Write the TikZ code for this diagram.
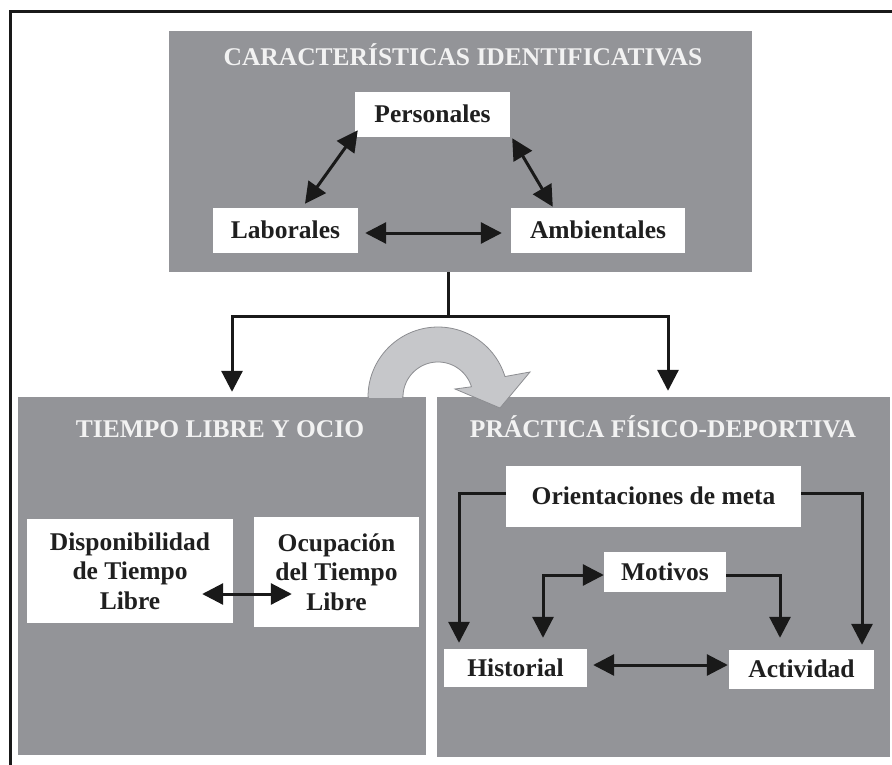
\documentclass[tikz,border=0pt]{standalone}
\usepackage{fontspec}
\setmainfont{Liberation Serif}
\usetikzlibrary{arrows.meta}
\definecolor{boxgray}{RGB}{147,148,152}
\definecolor{ringgray}{RGB}{198,199,202}
\definecolor{ringedge}{RGB}{140,141,145}
\definecolor{titlecol}{RGB}{242,242,242}
\tikzset{
  myhead/.tip={Triangle[length=21pt,width=21pt]},
  gbox/.style={fill=boxgray, draw=none, inner sep=0pt},
  lbl/.style={fill=white, draw=none, inner sep=0pt, font=\bfseries\fontsize{25.5}{29.5}\selectfont, text=black!88, align=center},
  ttl/.style={anchor=base, inner sep=0pt, text=titlecol, font=\bfseries\fontsize{25.5}{29.5}\selectfont},
  conn/.style={line width=3pt, draw=black!90},
  arr/.style={conn, -myhead},
  darr/.style={conn, myhead-myhead},
}
\begin{document}
\begin{tikzpicture}[x=1pt,y=-1pt]
\useasboundingbox (0,0) rectangle (892,765);
% outer frame (only top and left visible)
\draw[line width=3pt, draw=black!90] (10,765) -- (10,11.5) -- (892,11.5);

% gray panels
\node[gbox, minimum width=583pt, minimum height=241pt] (top) at (460.5,151.5) {};
\node[gbox, minimum width=408pt, minimum height=358pt] (tl) at (222,576) {};
\node[gbox, minimum width=453pt, minimum height=360pt] (pf) at (663.5,577) {};

% titles
\node[ttl] (t1) at (463,66) {CARACTERÍSTICAS IDENTIFICATIVAS};
\node[ttl] (t2) at (220,437) {TIEMPO LIBRE Y OCIO};
\node[ttl] (t3) at (663,437) {PRÁCTICA FÍSICO-DEPORTIVA};

% top section
\node[lbl, minimum width=155pt, minimum height=45pt, text height=17pt, text depth=1pt] (pers) at (432.5,114.5) {Personales};
\node[lbl, minimum width=145pt, minimum height=45pt, text height=17pt, text depth=1pt] (lab) at (285.5,230.5) {Laborales};
\node[lbl, minimum width=174pt, minimum height=45pt, text height=17pt, text depth=1pt] (amb) at (598,230.5) {Ambientales};
\draw[darr] ([shift={(3,-7)}]pers.south west) -- ([shift={(19.5,-4)}]lab.north);
\draw[darr] ([shift={(2,1)}]pers.south east) -- ([shift={(42,-1)}]amb.north west);
\draw[darr] ([shift={(7,2.5)}]lab.east) -- ([shift={(-9,2.5)}]amb.west);

% split connector
\coordinate (j) at (448,316);
\draw[conn] ([shift={(-12.5,0)}]top.south) -- (j);
\draw[arr] (j) -| ([shift={(10,-5)}]tl.north);
\draw[arr] (j) -| ([shift={(4.5,-6)}]pf.north);

% left section
\node[lbl, minimum width=206pt, minimum height=104pt] (disp) at (130,571) {Disponibilidad\\de Tiempo\\Libre};
\node[lbl, minimum width=165pt, minimum height=110pt] (ocup) at (336.5,572) {Ocupación\\del Tiempo\\Libre};
\draw[darr] ([shift={(-31,23)}]disp.east) -- ([shift={(38,22)}]ocup.west);

% right section
\node[lbl, minimum width=295pt, minimum height=61pt, text height=17pt, text depth=1pt] (ori) at (653.5,496.5) {Orientaciones de meta};
\node[lbl, minimum width=122pt, minimum height=40pt, text height=17pt, text depth=1pt] (mot) at (665,572) {Motivos};
\node[lbl, minimum width=143pt, minimum height=38pt, text height=17pt, text depth=1pt] (his) at (515.5,668) {Historial};
\node[lbl, minimum width=145pt, minimum height=39pt, text height=17pt, text depth=1pt] (act) at (801.5,669.5) {Actividad};
\draw[arr] ([shift={(0,-3.5)}]ori.west) -| ([shift={(-56.5,-6)}]his.north);
\draw[arr] ([shift={(0,-3.5)}]ori.east) -| ([shift={(60.5,-5)}]act.north);
\draw[darr] ([shift={(0,3)}]mot.west) -| ([shift={(27.5,-11)}]his.north);
\draw[arr] ([shift={(0,3)}]mot.east) -| ([shift={(-21.5,-12)}]act.north);
\draw[darr] ([shift={(6,-3)}]his.east) -- ([shift={(-1,-4.5)}]act.west);

% curved gray arrow
\filldraw[fill=ringgray, draw=ringedge, line width=0.8pt]
  plot[domain=180:343, samples=60] ({438+70*cos(\x)}, {397+70*sin(\x)})
  -- (530,372) -- (500,408) -- (455,389)
  -- plot[domain=343:180, samples=60] ({438+35*cos(\x)}, {397+35*sin(\x)})
  -- cycle;
\fill[fill=ringgray] (369,396) rectangle (402,398);
\end{tikzpicture}
\end{document}
